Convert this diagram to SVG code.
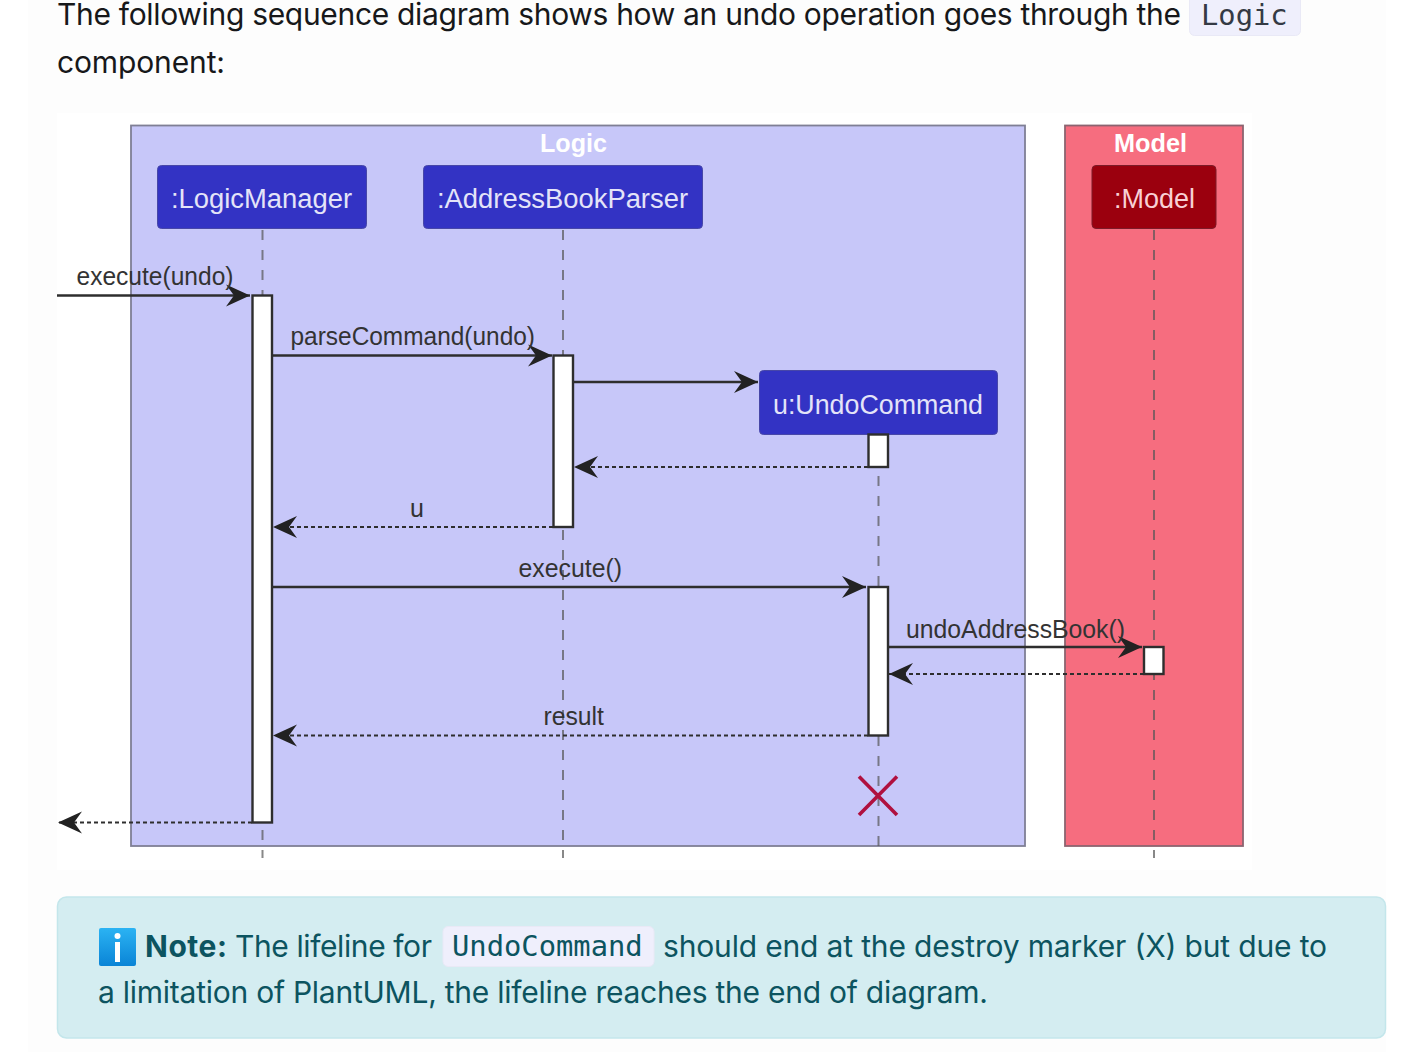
<svg xmlns="http://www.w3.org/2000/svg" width="1418" height="1052" viewBox="0 0 1418 1052">
<style>
.p{font-family:Inter,"Noto Sans",sans-serif;font-size:30px;fill:#17181a}
.n{font-family:Inter,"Noto Sans",sans-serif;font-size:30px;fill:#0c5460}
.m{font-family:"DejaVu Sans Mono",monospace;font-size:28.8px}
.lbl{font-family:"Liberation Sans",Arial,sans-serif;font-size:25px;fill:#333}
.part{font-family:"Liberation Sans",Arial,sans-serif;font-size:27px;fill:#e4e4f8}
.bx{font-family:"Liberation Sans",Arial,sans-serif;font-size:26px;font-weight:bold;fill:#fff}
.life{stroke:#555;stroke-width:2;stroke-dasharray:10 10;opacity:.7;fill:none}
.act{fill:#fff;stroke:#2e2e2e;stroke-width:2.400}
.msg{stroke:#2e2e2e;stroke-width:2.400;fill:none}
.ret{stroke:#2e2e2e;stroke-width:2.200;stroke-dasharray:4 3;fill:none}
.head{fill:#222}
</style>
<defs>
<marker id="a" markerUnits="userSpaceOnUse" markerWidth="26" markerHeight="26" refX="24" refY="13" orient="auto"><path class="head" d="M0 2L24 13L0 24L8 13Z"/></marker>
<linearGradient id="ig" x1="0" y1="0" x2="0" y2="1"><stop offset="0" stop-color="#2bb3f3"/><stop offset="1" stop-color="#0a84d6"/></linearGradient>
</defs>
<rect width="1418" height="1052" fill="#fff"/>
<rect x="28" y="0" width="1358" height="1052" fill="#fdfdfd"/>
<rect x="57" y="113" width="1195" height="757" fill="#fff"/>

<text class="p" x="57" y="25" textLength="1124" lengthAdjust="spacing">The following sequence diagram shows how an undo operation goes through the</text>
<rect x="1189.500" y="-6" width="111" height="41.500" rx="5" fill="#efeffc" stroke="#e9e9f6"/>
<text class="m" x="1201" y="25" fill="#343a44">Logic</text>
<text class="p" x="57" y="73" textLength="168" lengthAdjust="spacing">component:</text>

<g id="box-logic"><rect x="131" y="125.500" width="894" height="720.500" fill="#c7c7f9" stroke="#7f7f95" stroke-width="1.800"/><text class="bx" x="540" y="152" textLength="67" lengthAdjust="spacingAndGlyphs">Logic</text></g>
<g id="box-model"><rect x="1065" y="125.500" width="178" height="720.500" fill="#f66d7f" stroke="#8c6470" stroke-width="1.800"/><text class="bx" x="1114" y="152" textLength="73" lengthAdjust="spacingAndGlyphs">Model</text></g>

<g id="lifelines">
<path class="life" d="M262.500 230V858"/>
<path class="life" d="M563 230V858"/>
<path class="life" d="M878.500 436V848"/>
<path class="life" d="M1154 230V858"/>
</g>

<g id="n-logicmanager"><rect x="157.500" y="165.500" width="209" height="63" rx="4" fill="#3333c4" stroke="#4747a8"/><text class="part" x="171" y="208" textLength="181" lengthAdjust="spacingAndGlyphs">:LogicManager</text><rect class="act" x="252.500" y="295.500" width="19.500" height="527"/></g>
<g id="n-parser"><rect x="423.500" y="165.500" width="279" height="63" rx="4" fill="#3333c4" stroke="#4747a8"/><text class="part" x="437" y="208" textLength="251" lengthAdjust="spacingAndGlyphs">:AddressBookParser</text><rect class="act" x="553.500" y="355.500" width="19.500" height="171.500"/></g>
<g id="n-undocommand"><rect x="759.500" y="370.500" width="238" height="64" rx="4" fill="#3333c4" stroke="#4747a8"/><text class="part" x="773" y="414" textLength="210" lengthAdjust="spacingAndGlyphs">u:UndoCommand</text><rect class="act" x="868.500" y="434.500" width="19.500" height="32.500"/><rect class="act" x="868.500" y="587" width="19.500" height="148.500"/></g>
<g id="n-model"><rect x="1092" y="165.500" width="124" height="63" rx="4" fill="#9b000e" stroke="#7d1a28"/><text class="part" x="1114" y="208" textLength="81" lengthAdjust="spacingAndGlyphs" style="fill:#f8d0d5">:Model</text><rect class="act" x="1144" y="647" width="19.500" height="27"/></g>

<g id="connectors">
<path class="msg" d="M57 295.500H250" marker-end="url(#a)"/>
<path class="msg" d="M272 355.500H552" marker-end="url(#a)"/>
<path class="msg" d="M573 382H758" marker-end="url(#a)"/>
<path class="ret" d="M868 467H574" marker-end="url(#a)"/>
<path class="ret" d="M553 527H273" marker-end="url(#a)"/>
<path class="msg" d="M272 587H866" marker-end="url(#a)"/>
<path class="msg" d="M888 647H1142" marker-end="url(#a)"/>
<path class="ret" d="M1144 674H889" marker-end="url(#a)"/>
<path class="ret" d="M868 735.500H273" marker-end="url(#a)"/>
<path class="ret" d="M252 822.500H58" marker-end="url(#a)"/>
<path d="M859 776.500L897 815M897 776.500L859 815" stroke="#b0103f" stroke-width="3.600" fill="none"/>
</g>
<g id="labels">
<text class="lbl" x="76.500" y="285" textLength="157" lengthAdjust="spacingAndGlyphs">execute(undo)</text>
<text class="lbl" x="290.500" y="345" textLength="244.500" lengthAdjust="spacingAndGlyphs">parseCommand(undo)</text>
<text class="lbl" x="410" y="517">u</text>
<text class="lbl" x="518.500" y="577" textLength="103.500" lengthAdjust="spacingAndGlyphs">execute()</text>
<text class="lbl" x="906" y="638" textLength="219" lengthAdjust="spacingAndGlyphs">undoAddressBook()</text>
<text class="lbl" x="543.500" y="725" textLength="60.500" lengthAdjust="spacingAndGlyphs">result</text>
</g>

<g id="note">
<rect x="57.500" y="897" width="1328" height="141" rx="9" fill="#d4edf1" stroke="#c3e6eb" stroke-width="1.500"/>
<rect x="99" y="928" width="37" height="38" rx="2" fill="url(#ig)"/>
<circle cx="117.500" cy="936" r="3" fill="#fff"/><rect x="115" y="942" width="5" height="20" fill="#fff"/>
<text class="n" x="145" y="956.500" font-weight="700" textLength="82" lengthAdjust="spacing">Note:</text>
<text class="n" x="235" y="956.500" textLength="197" lengthAdjust="spacing">The lifeline for</text>
<rect x="443" y="926.500" width="211" height="40" rx="5" fill="#efeffc" stroke="#e9e9f6"/>
<text class="m" x="452" y="956" fill="#0c5460">UndoCommand</text>
<text class="n" x="663" y="956.500" textLength="664" lengthAdjust="spacing">should end at the destroy marker (X) but due to</text>
<text class="n" x="98" y="1002.500" textLength="890" lengthAdjust="spacing">a limitation of PlantUML, the lifeline reaches the end of diagram.</text>
</g>
</svg>
